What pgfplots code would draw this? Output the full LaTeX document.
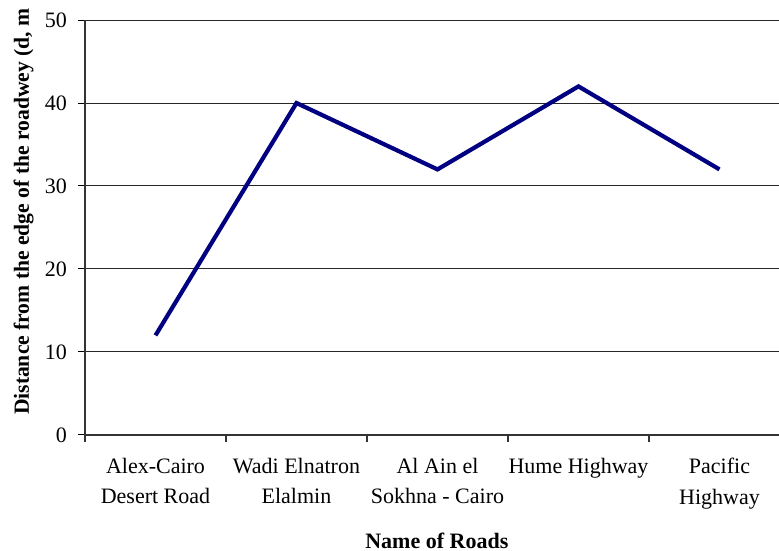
\documentclass[border=0pt]{standalone}
\usepackage{fontspec}
\setmainfont{Liberation Serif}
\usepackage{pgfplots}
\pgfplotsset{compat=1.18}
\usetikzlibrary{calc}
\definecolor{navyline}{RGB}{0,0,128}
\begin{document}
\begin{tikzpicture}
\begin{axis}[
  name=ax,
  scale only axis,
  width=347pt, height=207.5pt,
  xmin=-0.5, xmax=4.422,
  ymin=0, ymax=50,
  axis x line*=bottom,
  axis y line*=left,
  axis line style={black!80, line width=0.6pt},
  ytick={0,10,20,30,40,50},
  ymajorgrids,
  grid style={black!85, line width=0.5pt},
  xtick={0,1,2,3,4},
  xticklabels={{Alex-Cairo\\Desert Road},{Wadi Elnatron\\Elalmin},{Al Ain el\\Sokhna - Cairo},{Hume Highway},{Pacific\\Highway}},
  major x tick style={draw=none},
  minor xtick={-0.5,0.5,1.5,2.5,3.5},
  minor x tick style={black!80, line width=0.6pt},
  tick align=outside,
  major tick length=3.5pt,
  minor tick length=3.5pt,
  ytick style={black, line width=0.5pt},
  /pgf/number format/assume math mode=true,
  tick label style={font=\fontsize{11}{15.3}\selectfont},
  xticklabel style={align=center, yshift=-4.5pt},
  yticklabel style={xshift=-2pt},
  xlabel={Name of Roads},
  xlabel style={font=\fontsize{11}{13}\selectfont\bfseries, at={(axis description cs:0.507,-0.2554)}, anchor=center},
  ylabel={Distance from the edge of the roadwey (d, m},
  ylabel style={font=\fontsize{10.8}{13}\selectfont\bfseries, at={(axis description cs:-0.0885,0.538)}, anchor=center},
  clip=false,
]
\addplot[navyline, line width=2.1pt, line join=miter] coordinates {
  (0,12) (1,40) (2,32) (3,42) (4,32)
};
\end{axis}
\pgfresetboundingbox
\path ($(ax.south west)+(-42.5pt,-58pt)$) rectangle ($(ax.north east)+(0,10pt)$);
\end{tikzpicture}
\end{document}
